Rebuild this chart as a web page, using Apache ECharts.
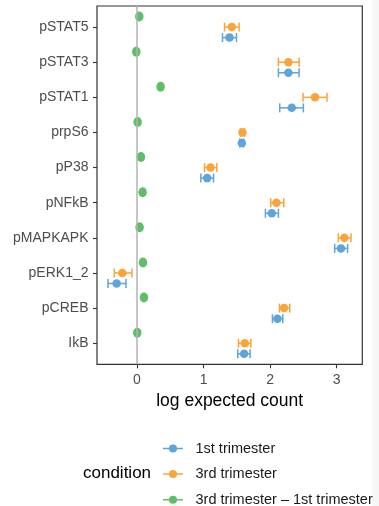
<!DOCTYPE html>
<html>
<head>
<meta charset="utf-8">
<script src="https://cdn.jsdelivr.net/npm/echarts@6/dist/echarts.min.js"></script>
<style>html,body{margin:0;padding:0;background:#fff;}#c{width:379px;height:506px;}</style>
</head>
<body>
<div id="c"></div>
<script>
// Categories from top to bottom
var categories = ['pSTAT5','pSTAT3','pSTAT1','prpS6','pP38','pNFkB','pMAPKAPK','pERK1_2','pCREB','IkB'];
var xTicks = [0, 1, 2, 3];
var seriesNames = ['1st trimester', '3rd trimester', '3rd trimester \u2013 1st trimester'];

var firstMean = [1.39, 2.275, 2.325, 1.575, 1.055, 2.025, 3.065, -0.305, 2.11, 1.61];
var firstLow  = [1.285, 2.125, 2.145, 1.545, 0.96, 1.93, 2.97, -0.435, 2.035, 1.515];
var firstHigh = [1.495, 2.435, 2.50, 1.605, 1.15, 2.125, 3.165, -0.165, 2.19, 1.70];

var thirdMean = [1.425, 2.275, 2.675, 1.585, 1.105, 2.095, 3.115, -0.22, 2.21, 1.62];
var thirdLow  = [1.315, 2.125, 2.495, 1.555, 1.015, 2.01, 3.025, -0.34, 2.14, 1.525];
var thirdHigh = [1.535, 2.435, 2.855, 1.615, 1.20, 2.205, 3.215, -0.075, 2.295, 1.71];

var diffMean = [0.035, -0.01, 0.355, 0.01, 0.06, 0.085, 0.04, 0.09, 0.105, 0.005];

var colors = ['#5DA5DA', '#FAA43A', '#60BD68'];
var dodge = [0.3, 0, -0.3]; // blue below, orange centre, green above (inverse axis)

function pts(mean, off) {
  return mean.map(function (v, i) { return [v, i + off]; });
}
function bars(low, high, off) {
  return low.map(function (v, i) { return [v, high[i], i + off]; });
}
function errRender(color) {
  return function (params, api) {
    var p1 = api.coord([api.value(0), api.value(2)]);
    var p2 = api.coord([api.value(1), api.value(2)]);
    var h = 4.5;
    var st = { stroke: color, lineWidth: 1.5 };
    return { type: 'group', children: [
      { type: 'line', shape: { x1: p1[0], y1: p1[1], x2: p2[0], y2: p2[1] }, style: st },
      { type: 'line', shape: { x1: p1[0], y1: p1[1] - h, x2: p1[0], y2: p1[1] + h }, style: st },
      { type: 'line', shape: { x1: p2[0], y1: p2[1] - h, x2: p2[0], y2: p2[1] + h }, style: st }
    ]};
  };
}

var iconPath = 'path://M0,3.25H20V4.75H0Z M6,4A4,4 0 1,1 14,4A4,4 0 1,1 6,4Z';
var FONT = 'Liberation Sans, Arial, sans-serif';
var yIdx = categories.map(function (c, i) { return i; });

var chart = echarts.init(document.getElementById('c'), null, { renderer: 'canvas' });
chart.setOption({
  animation: false,
  backgroundColor: '#ffffff',
  textStyle: { fontFamily: FONT },
  graphic: [
    { type: 'rect', left: 372, top: 0, shape: { width: 7, height: 506 }, style: { fill: '#f6f6f6' }, silent: true },
    { type: 'text', left: 83, top: 465, style: { text: 'condition', fontSize: 17, fill: '#000', fontFamily: FONT } }
  ],
  legend: {
    orient: 'vertical',
    left: 163,
    top: 441,
    padding: 0,
    height: 70,
    itemWidth: 21,
    itemHeight: 8,
    itemGap: 10.6,
    textStyle: { fontSize: 14.5, color: '#1a1a1a', lineHeight: 14, padding: [0, 0, 0, 7], fontFamily: FONT },
    itemStyle: { borderWidth: 0 },
    data: seriesNames.map(function (n) { return { name: n, icon: iconPath }; })
  },
  grid: { left: 97, right: 16.7, top: 6, bottom: 141.7, show: true, borderColor: '#333333', borderWidth: 1.2, backgroundColor: 'transparent' },
  xAxis: {
    type: 'value', min: -0.6, max: 3.385,
    name: 'log expected count', nameLocation: 'middle', nameGap: 27,
    nameTextStyle: { fontSize: 17.5, color: '#000', fontFamily: FONT },
    axisLine: { show: false, onZero: false },
    axisTick: { show: true, length: 4, lineStyle: { color: '#333', width: 1.1 }, customValues: xTicks },
    axisLabel: { fontSize: 14, color: '#4d4d4d', margin: 9, customValues: xTicks, fontFamily: FONT },
    splitLine: { show: false }
  },
  yAxis: {
    type: 'value', min: -0.6, max: 9.6, inverse: true,
    axisLine: { show: false, onZero: false },
    axisTick: { show: true, length: 4, lineStyle: { color: '#333', width: 1.1 }, customValues: yIdx },
    axisLabel: { fontSize: 14, color: '#4d4d4d', margin: 8.5, fontFamily: FONT,
      customValues: yIdx,
      formatter: function (v) { return categories[Math.round(v)]; } },
    splitLine: { show: false }
  },
  series: [
    { type: 'scatter', name: 'zero', data: [], z: 1, silent: true,
      markLine: { silent: true, symbol: 'none', label: { show: false },
        lineStyle: { color: '#b3b3b3', width: 1.5, type: 'solid' }, data: [{ xAxis: 0 }] } },
    { type: 'custom', name: 'err1', data: bars(firstLow, firstHigh, dodge[0]), renderItem: errRender(colors[0]), z: 2, silent: true },
    { type: 'custom', name: 'err3', data: bars(thirdLow, thirdHigh, dodge[1]), renderItem: errRender(colors[1]), z: 2, silent: true },
    { type: 'scatter', name: seriesNames[0], data: pts(firstMean, dodge[0]), symbol: 'circle', symbolSize: 8.5, itemStyle: { color: colors[0], opacity: 1 }, z: 3 },
    { type: 'scatter', name: seriesNames[1], data: pts(thirdMean, dodge[1]), symbol: 'circle', symbolSize: 8.5, itemStyle: { color: colors[1], opacity: 1 }, z: 3 },
    { type: 'scatter', name: seriesNames[2], data: pts(diffMean, dodge[2]), symbol: 'circle', symbolSize: [8.5, 10], itemStyle: { color: colors[2], opacity: 1 }, z: 3 }
  ]
});
</script>
</body>
</html>
